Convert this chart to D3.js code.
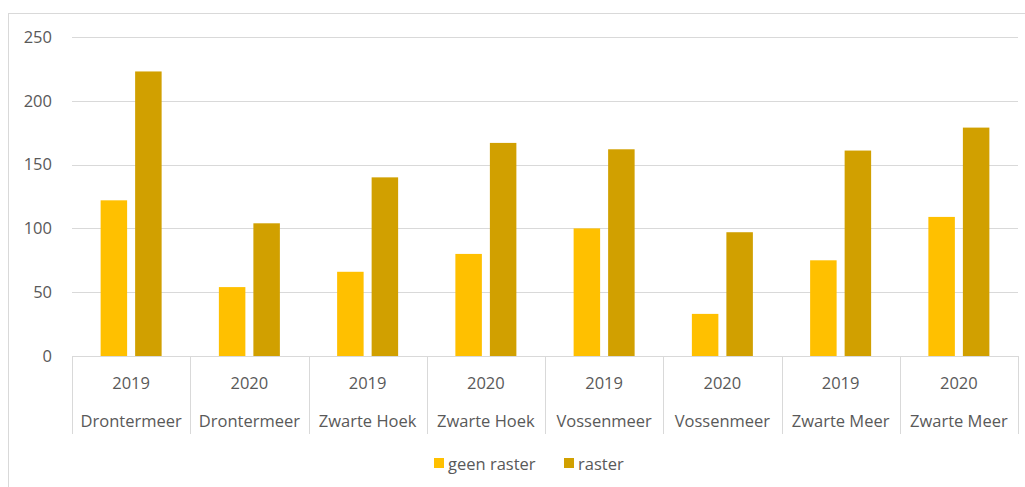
<!DOCTYPE html>
<html>
<head>
<meta charset="utf-8">
<script src="https://cdn.jsdelivr.net/npm/d3@7"></script>
<style>
  html, body { margin: 0; padding: 0; background: #fff; }
  svg { display: block; }
  text { font-family: "Open Sans", "Noto Sans", sans-serif; fill: #595959; }
</style>
</head>
<body>
<svg id="chart" width="1025" height="487"></svg>
<script>
// Categories: year + lake
const years = ["2019", "2020", "2019", "2020", "2019", "2020", "2019", "2020"];
const lakes = ["Drontermeer", "Drontermeer", "Zwarte Hoek", "Zwarte Hoek",
               "Vossenmeer", "Vossenmeer", "Zwarte Meer", "Zwarte Meer"];

// Series
const seriesNames = ["geen raster", "raster"];
const geenRaster = [122, 54, 66, 80, 100, 33, 75, 109];
const raster     = [223, 104, 140, 167, 162, 97, 161, 179];
const seriesColors = ["#FFC000", "#D1A000"];

// Axis ticks
const yTicks = [0, 50, 100, 150, 200, 250];

const svg = d3.select("#chart");
const W = 1025, H = 487;
const plot = { left: 72, right: 1018, top: 37, bottom: 356 };

// Outer chart frame
svg.append("rect")
  .attr("x", 8.5).attr("y", 13.5)
  .attr("width", W + 10).attr("height", H + 10)
  .attr("fill", "#fff").attr("stroke", "#d9d9d9").attr("stroke-width", 1);

const idx = d3.range(years.length);
const x = d3.scaleBand().domain(idx).range([plot.left, plot.right]).padding(0);
const catPad = (x.bandwidth() - 61) / 2;
const xs = d3.scaleBand().domain(seriesNames)
  .range([catPad, x.bandwidth() - catPad])
  .paddingInner(0.232).paddingOuter(0);
const y = d3.scaleLinear().domain([0, 250]).range([plot.bottom, plot.top]);

// Horizontal gridlines
svg.append("g").selectAll("line")
  .data(yTicks.filter(t => t > 0))
  .join("line")
  .attr("x1", plot.left).attr("x2", plot.right)
  .attr("y1", d => Math.round(y(d)) + 0.5).attr("y2", d => Math.round(y(d)) + 0.5)
  .attr("stroke", "#d9d9d9").attr("stroke-width", 1);

// Y tick labels
const yAxis = d3.axisLeft(y).tickValues(yTicks).tickSize(0).tickPadding(0);
const gy = svg.append("g").attr("transform", "translate(52,0)").call(yAxis);
gy.select(".domain").remove();
gy.selectAll("text")
  .attr("font-size", "16.5px")
  .attr("font-family", "Open Sans, Noto Sans, sans-serif")
  .attr("fill", "#595959");

// Bars
const rows = idx.map(i => ({ i, values: [geenRaster[i], raster[i]] }));
const groups = svg.append("g").selectAll("g")
  .data(rows).join("g")
  .attr("transform", d => `translate(${x(d.i)},0)`);
groups.selectAll("rect")
  .data(d => d.values.map((v, k) => ({ key: seriesNames[k], v, k })))
  .join("rect")
  .attr("x", d => xs(d.key))
  .attr("width", xs.bandwidth())
  .attr("y", d => y(d.v))
  .attr("height", d => y(0) - y(d.v))
  .attr("fill", d => seriesColors[d.k]);

// Category axis: baseline, separators and two label rows
const axisBottom = 434;
svg.append("line")
  .attr("x1", plot.left).attr("x2", plot.right)
  .attr("y1", plot.bottom + 0.5).attr("y2", plot.bottom + 0.5)
  .attr("stroke", "#d9d9d9");
svg.append("g").selectAll("line")
  .data(idx.concat([years.length]))
  .join("line")
  .attr("x1", d => Math.round(d < years.length ? x(d) : plot.right) + 0.5)
  .attr("x2", d => Math.round(d < years.length ? x(d) : plot.right) + 0.5)
  .attr("y1", plot.bottom).attr("y2", axisBottom)
  .attr("stroke", "#d9d9d9");

const labels = svg.append("g");
labels.selectAll("text.year")
  .data(idx).join("text")
  .attr("class", "year")
  .attr("x", d => x(d) + x.bandwidth() / 2)
  .attr("y", 382)
  .attr("text-anchor", "middle")
  .attr("dominant-baseline", "central")
  .attr("font-size", "16.5px")
  .text(d => years[d]);
labels.selectAll("text.lake")
  .data(idx).join("text")
  .attr("class", "lake")
  .attr("x", d => x(d) + x.bandwidth() / 2)
  .attr("y", 420)
  .attr("text-anchor", "middle")
  .attr("dominant-baseline", "central")
  .attr("font-size", "16.5px")
  .text(d => lakes[d]);

// Legend
const legendX = [434, 564];
const legend = svg.append("g").selectAll("g")
  .data(seriesNames).join("g")
  .attr("transform", (d, k) => `translate(${legendX[k]},458)`);
legend.append("rect")
  .attr("width", 10).attr("height", 10)
  .attr("fill", (d, k) => seriesColors[k]);
legend.append("text")
  .attr("x", 14).attr("y", 5)
  .attr("dominant-baseline", "central")
  .attr("font-size", "16.5px")
  .text(d => d);
</script>
</body>
</html>
